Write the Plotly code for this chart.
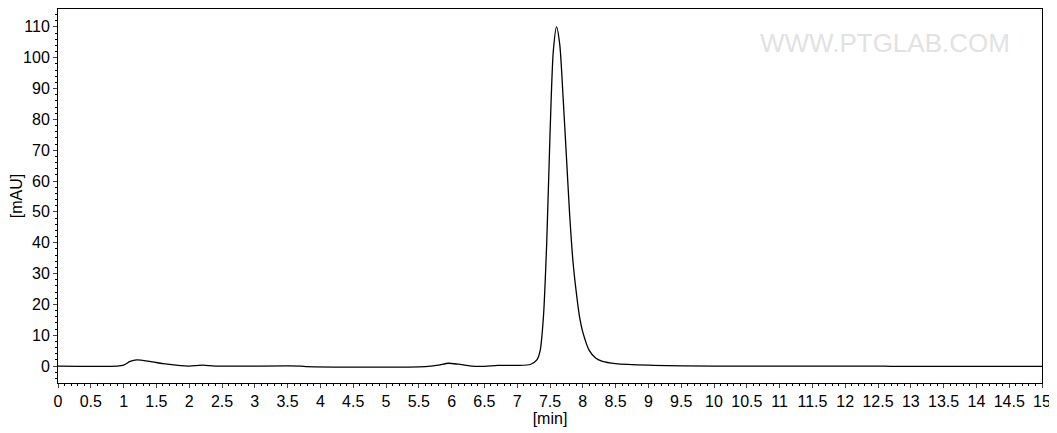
import plotly.graph_objects as go

time_min = [0, 0.9, 1.0, 1.1, 1.2, 1.4, 1.6, 1.8, 2.0, 2.2, 2.4, 3.7, 3.8, 5.6, 5.8, 5.95, 6.1, 6.3, 6.5, 6.7, 7.0,
            7.2, 7.3, 7.35, 7.4, 7.45, 7.5, 7.55, 7.6, 7.65, 7.7, 7.75, 7.8, 7.85, 7.9, 7.95, 8.0, 8.1, 8.2, 8.3,
            8.5, 9.0, 10.0, 12.5, 12.7, 15.0]
mau = [0, 0, 0.3, 1.5, 2.0, 1.5, 0.8, 0.3, 0, 0.3, 0, 0, -0.2, -0.2, 0.3, 0.9, 0.6, 0, -0.1, 0.2, 0.2,
       0.5, 2, 5, 16, 40, 75, 102, 110, 104, 87, 68, 49, 34, 24, 16, 11, 5, 2.5, 1.5,
       0.8, 0.3, 0, 0, -0.1, -0.1]

x_ticks = [i * 0.5 for i in range(31)]
x_labels = [("%g" % v) for v in x_ticks]
y_ticks = list(range(0, 111, 10))

fig = go.Figure(go.Scatter(x=time_min, y=mau, mode="lines",
                           line=dict(color="black", width=1.3, shape="spline", smoothing=0.7)))
font = dict(family="Liberation Sans, Arial", size=16, color="black")
fig.update_layout(
    width=1057, height=433, plot_bgcolor="white", paper_bgcolor="white",
    margin=dict(l=50, r=23, t=1, b=58, autoexpand=False), showlegend=False, font=font,
    xaxis=dict(range=[0, 15], tickvals=x_ticks, ticktext=x_labels, showgrid=False, zeroline=False,
               automargin=False,
               showline=True, linecolor="black", linewidth=1, mirror=True, ticks="outside", ticklen=4,
               minor=dict(dtick=0.1, ticks="outside", ticklen=2, tickcolor="black"),
               title=dict(text="[min]", font=font, standoff=2)),
    yaxis=dict(range=[-5.5, 115.8], tickvals=y_ticks, showgrid=False, zeroline=False,
               automargin=False,
               showline=True, linecolor="black", linewidth=1, mirror=True, ticks="outside", ticklen=4,
               minor=dict(dtick=2, ticks="outside", ticklen=2, tickcolor="black"),
               title=dict(text="[mAU]", font=font, standoff=4)),
    annotations=[dict(text="WWW.PTGLAB.COM", x=0.97, y=0.955, xref="paper", yref="paper",
                      xanchor="right", showarrow=False,
                      font=dict(family="Liberation Sans, Arial", size=26, color="#e2e2e2"))],
)
fig.write_html("out.html")
